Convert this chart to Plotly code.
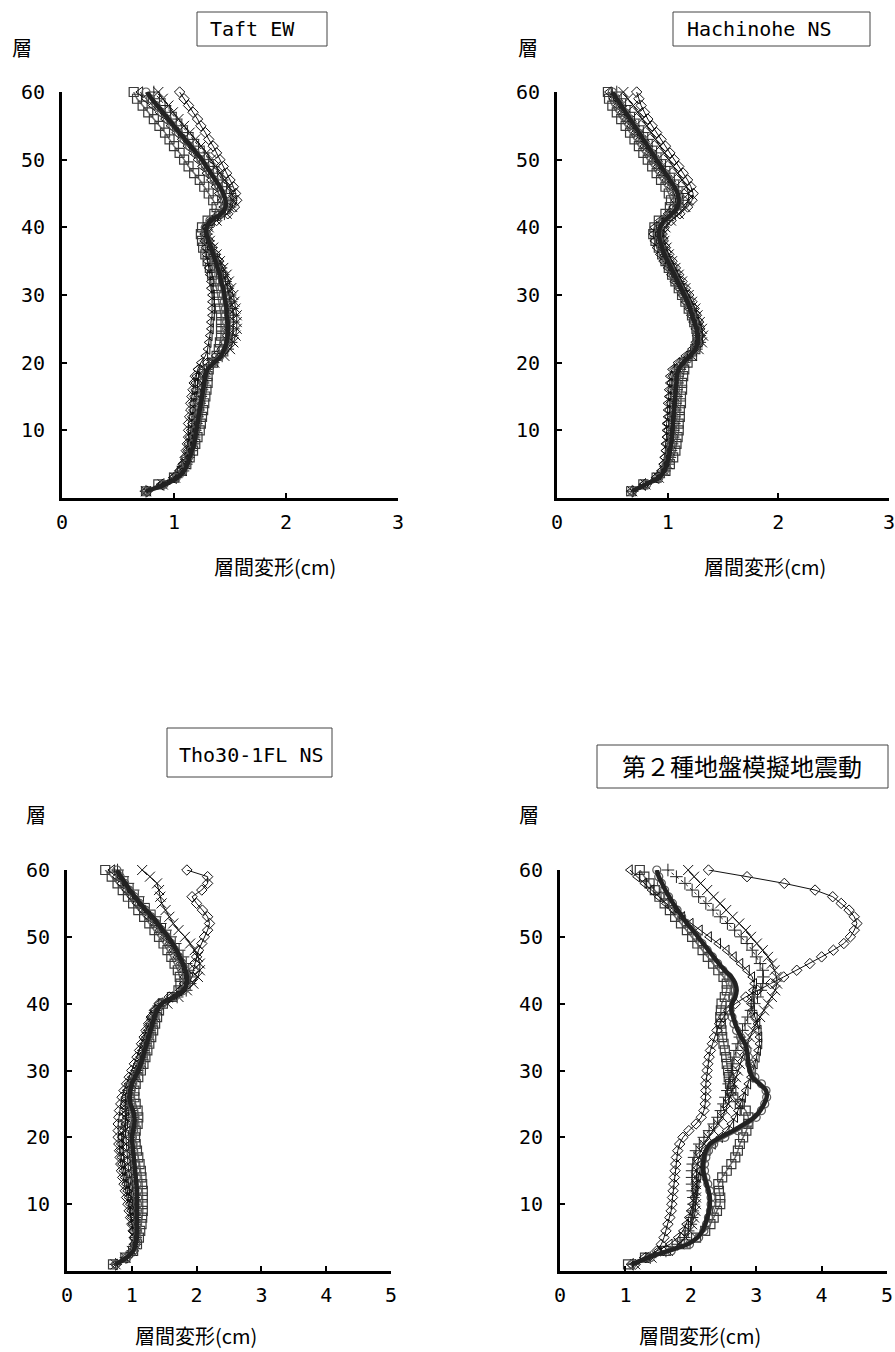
import plotly.graph_objects as go

# ---------------- data (layer 1 .. 60) ----------------
layers = list(range(1, 61))

# Panel 1: Taft EW
taft_square = [0.75,0.86,1.00,1.07,1.11,1.14,1.17,1.19,1.21,1.23,
               1.24,1.25,1.26,1.27,1.28,1.29,1.30,1.30,1.31,1.35,
               1.38,1.40,1.41,1.42,1.42,1.42,1.42,1.41,1.40,1.39,
               1.38,1.36,1.34,1.32,1.30,1.28,1.26,1.25,1.24,1.25,
               1.30,1.36,1.38,1.35,1.31,1.27,1.23,1.18,1.13,1.09,
               1.05,1.00,0.96,0.92,0.87,0.82,0.77,0.72,0.67,0.64]
taft_diamond = [0.76,0.90,1.00,1.05,1.08,1.10,1.11,1.12,1.13,1.13,
                1.13,1.14,1.15,1.15,1.16,1.17,1.18,1.19,1.22,1.30,
                1.38,1.43,1.46,1.48,1.49,1.50,1.50,1.50,1.50,1.49,
                1.48,1.46,1.44,1.42,1.40,1.37,1.34,1.31,1.29,1.30,
                1.38,1.48,1.54,1.56,1.55,1.53,1.50,1.47,1.44,1.41,
                1.38,1.35,1.31,1.28,1.24,1.21,1.17,1.13,1.09,1.05]
taft_triangle = [0.74,0.88,0.99,1.05,1.08,1.10,1.12,1.13,1.14,1.15,
                 1.16,1.16,1.17,1.17,1.18,1.19,1.19,1.20,1.21,1.24,
                 1.28,1.30,1.31,1.32,1.33,1.33,1.34,1.34,1.34,1.34,
                 1.33,1.33,1.32,1.31,1.30,1.29,1.28,1.27,1.27,1.28,
                 1.33,1.40,1.44,1.43,1.40,1.37,1.33,1.29,1.25,1.21,
                 1.17,1.12,1.07,1.02,0.97,0.92,0.87,0.81,0.75,0.70]
taft_x = [0.75,0.90,1.01,1.07,1.10,1.12,1.14,1.16,1.17,1.18,
          1.19,1.20,1.21,1.22,1.23,1.24,1.25,1.26,1.28,1.36,
          1.45,1.50,1.53,1.55,1.56,1.56,1.56,1.55,1.54,1.53,
          1.51,1.49,1.47,1.44,1.41,1.38,1.35,1.32,1.30,1.31,
          1.38,1.47,1.52,1.53,1.52,1.49,1.45,1.41,1.37,1.33,
          1.29,1.24,1.19,1.14,1.09,1.04,0.99,0.95,0.90,0.86]
taft_cross = [0.75,0.91,1.02,1.08,1.11,1.13,1.15,1.17,1.18,1.19,
              1.20,1.21,1.22,1.23,1.24,1.25,1.26,1.27,1.29,1.35,
              1.43,1.48,1.51,1.52,1.53,1.53,1.53,1.52,1.51,1.50,
              1.48,1.46,1.44,1.42,1.39,1.36,1.33,1.31,1.29,1.30,
              1.36,1.45,1.50,1.51,1.50,1.47,1.43,1.39,1.35,1.31,
              1.27,1.22,1.17,1.12,1.07,1.02,0.97,0.92,0.87,0.82]
taft_circle = [0.75,0.91,1.02,1.08,1.11,1.13,1.15,1.17,1.18,1.19,
               1.20,1.21,1.22,1.23,1.24,1.25,1.26,1.27,1.29,1.35,
               1.41,1.44,1.46,1.47,1.47,1.47,1.46,1.46,1.45,1.44,
               1.43,1.41,1.40,1.38,1.36,1.34,1.32,1.30,1.28,1.28,
               1.32,1.41,1.45,1.45,1.43,1.40,1.36,1.32,1.28,1.24,
               1.19,1.14,1.09,1.04,0.99,0.94,0.89,0.84,0.79,0.75]
taft_mean = [0.75,0.92,1.03,1.09,1.12,1.14,1.16,1.18,1.19,1.20,
             1.21,1.22,1.23,1.24,1.25,1.26,1.27,1.28,1.30,1.36,
             1.42,1.45,1.47,1.48,1.48,1.48,1.47,1.47,1.46,1.45,
             1.44,1.42,1.41,1.39,1.37,1.35,1.33,1.31,1.29,1.29,
             1.33,1.42,1.46,1.46,1.44,1.41,1.37,1.33,1.29,1.25,
             1.20,1.15,1.10,1.05,1.00,0.95,0.90,0.85,0.80,0.76]

# Panel 2: Hachinohe NS
hachi_square = [0.67,0.78,0.90,0.98,1.02,1.05,1.07,1.08,1.09,1.10,
                1.10,1.11,1.11,1.12,1.12,1.13,1.13,1.14,1.15,1.18,
                1.22,1.25,1.27,1.27,1.26,1.24,1.22,1.19,1.16,1.13,
                1.10,1.07,1.04,1.01,0.98,0.95,0.92,0.89,0.87,0.88,
                0.92,0.98,1.02,1.03,1.01,0.98,0.94,0.90,0.86,0.82,
                0.78,0.74,0.70,0.66,0.62,0.58,0.54,0.50,0.47,0.46]
hachi_diamond = [0.68,0.79,0.90,0.95,0.97,0.98,0.99,1.00,1.00,1.01,
                 1.01,1.02,1.02,1.03,1.03,1.04,1.04,1.05,1.07,1.12,
                 1.19,1.25,1.28,1.29,1.29,1.28,1.26,1.24,1.22,1.19,
                 1.16,1.13,1.10,1.07,1.04,1.01,0.98,0.96,0.95,0.97,
                 1.03,1.11,1.18,1.22,1.23,1.21,1.18,1.14,1.10,1.06,
                 1.02,0.98,0.94,0.90,0.86,0.82,0.79,0.76,0.74,0.72]
hachi_triangle = [0.67,0.78,0.89,0.94,0.96,0.97,0.98,0.98,0.99,0.99,
                  0.99,1.00,1.00,1.00,1.01,1.01,1.02,1.02,1.04,1.09,
                  1.16,1.22,1.25,1.26,1.25,1.23,1.21,1.19,1.16,1.13,
                  1.10,1.06,1.03,1.00,0.96,0.93,0.90,0.88,0.87,0.88,
                  0.93,1.00,1.05,1.07,1.06,1.03,0.99,0.95,0.91,0.87,
                  0.83,0.79,0.75,0.71,0.67,0.63,0.59,0.55,0.51,0.47]
hachi_x = [0.68,0.80,0.92,0.97,1.00,1.01,1.02,1.03,1.03,1.04,
           1.04,1.05,1.05,1.06,1.06,1.07,1.07,1.08,1.10,1.15,
           1.22,1.28,1.31,1.32,1.31,1.29,1.27,1.25,1.22,1.19,
           1.16,1.13,1.10,1.07,1.04,1.01,0.99,0.97,0.96,0.98,
           1.03,1.10,1.16,1.19,1.19,1.17,1.13,1.09,1.05,1.01,
           0.97,0.93,0.89,0.85,0.81,0.77,0.73,0.69,0.64,0.60]
hachi_cross = [0.68,0.80,0.92,0.97,1.00,1.02,1.03,1.04,1.05,1.05,
               1.06,1.06,1.07,1.07,1.08,1.08,1.09,1.09,1.11,1.15,
               1.21,1.26,1.29,1.29,1.28,1.26,1.24,1.22,1.19,1.16,
               1.13,1.10,1.07,1.04,1.01,0.98,0.96,0.94,0.93,0.95,
               1.00,1.07,1.12,1.14,1.13,1.10,1.06,1.02,0.98,0.94,
               0.90,0.86,0.82,0.78,0.74,0.70,0.66,0.62,0.58,0.54]
hachi_circle = [0.68,0.81,0.92,0.97,0.99,1.01,1.02,1.03,1.04,1.04,
                1.05,1.05,1.06,1.06,1.07,1.07,1.08,1.08,1.10,1.14,
                1.20,1.25,1.27,1.27,1.26,1.24,1.22,1.20,1.17,1.14,
                1.11,1.08,1.05,1.02,0.99,0.96,0.94,0.92,0.91,0.92,
                0.96,1.03,1.08,1.09,1.08,1.05,1.01,0.97,0.93,0.89,
                0.85,0.81,0.77,0.73,0.69,0.65,0.61,0.57,0.53,0.50]
hachi_mean = [0.68,0.80,0.92,0.97,0.99,1.01,1.02,1.03,1.04,1.04,
              1.05,1.05,1.06,1.06,1.07,1.07,1.08,1.08,1.10,1.14,
              1.20,1.25,1.27,1.27,1.26,1.24,1.22,1.20,1.18,1.15,
              1.12,1.09,1.06,1.03,1.00,0.97,0.95,0.93,0.92,0.93,
              0.97,1.04,1.09,1.10,1.09,1.06,1.02,0.98,0.94,0.90,
              0.86,0.82,0.78,0.74,0.70,0.66,0.62,0.58,0.54,0.50]

# Panel 3: Tho30-1FL NS
tho_square = [0.71,0.90,1.02,1.08,1.11,1.13,1.15,1.16,1.17,1.17,
              1.17,1.17,1.16,1.15,1.14,1.12,1.10,1.08,1.06,1.05,
              1.06,1.09,1.10,1.09,1.06,1.04,1.04,1.06,1.10,1.14,
              1.18,1.21,1.24,1.27,1.30,1.33,1.36,1.39,1.42,1.48,
              1.62,1.72,1.75,1.74,1.71,1.66,1.61,1.55,1.49,1.42,
              1.35,1.27,1.19,1.10,1.02,0.94,0.86,0.78,0.69,0.59]
tho_diamond = [0.76,0.92,1.02,1.05,1.04,1.02,1.00,0.98,0.96,0.94,
               0.92,0.90,0.88,0.86,0.84,0.83,0.82,0.81,0.80,0.79,
               0.79,0.79,0.80,0.81,0.83,0.85,0.88,0.92,0.96,1.00,
               1.04,1.08,1.12,1.15,1.19,1.22,1.26,1.30,1.35,1.42,
               1.58,1.76,1.88,1.93,1.95,1.97,2.00,2.03,2.08,2.12,
               2.17,2.20,2.17,2.09,2.00,1.93,2.08,2.17,2.17,1.85]
tho_triangle = [0.74,0.90,1.00,1.03,1.03,1.02,1.01,1.00,0.99,0.97,
                0.95,0.93,0.91,0.89,0.87,0.85,0.84,0.83,0.83,0.84,
                0.87,0.90,0.92,0.91,0.90,0.90,0.92,0.95,1.00,1.05,
                1.09,1.13,1.16,1.19,1.22,1.25,1.28,1.31,1.35,1.42,
                1.60,1.74,1.80,1.81,1.79,1.75,1.70,1.64,1.58,1.51,
                1.43,1.35,1.26,1.17,1.08,1.00,0.92,0.84,0.77,0.70]
tho_x = [0.75,0.90,1.00,1.05,1.06,1.06,1.05,1.04,1.03,1.02,
         1.01,1.00,0.98,0.97,0.95,0.94,0.93,0.92,0.91,0.90,
         0.90,0.90,0.90,0.90,0.91,0.93,0.96,1.00,1.04,1.08,
         1.11,1.14,1.17,1.20,1.23,1.26,1.30,1.34,1.40,1.55,
         1.72,1.85,1.95,2.02,2.05,2.05,2.02,1.97,1.90,1.82,
         1.72,1.64,1.58,1.52,1.46,1.44,1.42,1.39,1.28,1.16]
tho_cross = [0.75,0.91,1.01,1.05,1.06,1.06,1.06,1.06,1.05,1.04,
             1.03,1.02,1.01,1.00,0.99,0.98,0.97,0.96,0.95,0.95,
             0.97,0.99,1.00,0.99,0.96,0.95,0.96,0.99,1.03,1.08,
             1.12,1.15,1.18,1.21,1.24,1.27,1.30,1.33,1.37,1.48,
             1.70,1.84,1.90,1.90,1.88,1.84,1.79,1.73,1.67,1.60,
             1.52,1.44,1.36,1.27,1.18,1.10,1.02,0.94,0.86,0.78]
tho_circle = [0.75,0.92,1.02,1.06,1.08,1.09,1.09,1.09,1.09,1.09,
              1.09,1.09,1.08,1.07,1.06,1.05,1.04,1.03,1.02,1.01,
              1.03,1.05,1.05,1.03,0.99,0.98,0.99,1.01,1.06,1.11,
              1.15,1.18,1.21,1.24,1.27,1.30,1.33,1.36,1.40,1.47,
              1.66,1.80,1.84,1.84,1.82,1.78,1.73,1.67,1.61,1.54,
              1.46,1.38,1.30,1.21,1.12,1.04,0.96,0.89,0.82,0.77]
tho_mean = [0.75,0.92,1.02,1.06,1.07,1.08,1.08,1.08,1.08,1.08,
            1.08,1.08,1.07,1.06,1.05,1.04,1.03,1.02,1.01,1.00,
            1.02,1.04,1.04,1.02,0.98,0.97,0.98,1.00,1.05,1.10,
            1.14,1.17,1.20,1.23,1.26,1.29,1.32,1.35,1.39,1.46,
            1.65,1.80,1.85,1.85,1.83,1.79,1.74,1.69,1.63,1.56,
            1.48,1.40,1.32,1.22,1.13,1.05,0.97,0.90,0.83,0.77]

# Panel 4: 第２種地盤模擬地震動
kind2_square = [1.04,1.30,1.62,1.92,2.08,2.22,2.30,2.35,2.40,2.45,
                2.45,2.43,2.42,2.48,2.55,2.62,2.68,2.72,2.75,2.80,
                2.85,2.88,2.88,2.84,2.75,2.65,2.62,2.60,2.58,2.57,
                2.55,2.54,2.52,2.50,2.48,2.47,2.46,2.45,2.46,2.47,
                2.52,2.55,2.55,2.50,2.42,2.34,2.26,2.18,2.10,2.02,
                1.94,1.85,1.76,1.68,1.60,1.52,1.45,1.37,1.29,1.22]
kind2_diamond = [1.15,1.35,1.48,1.55,1.59,1.62,1.65,1.68,1.70,1.71,
                 1.72,1.73,1.74,1.75,1.76,1.77,1.78,1.80,1.83,1.88,
                 1.97,2.08,2.16,2.20,2.22,2.23,2.23,2.23,2.24,2.25,
                 2.26,2.28,2.30,2.33,2.36,2.40,2.44,2.50,2.58,2.68,
                 2.84,3.02,3.22,3.42,3.62,3.82,4.00,4.18,4.34,4.44,
                 4.50,4.54,4.50,4.42,4.30,4.17,3.90,3.43,2.86,2.27]
kind2_triangle = [1.08,1.28,1.50,1.68,1.80,1.88,1.93,1.97,2.00,2.03,
                  2.05,2.07,2.09,2.11,2.13,2.16,2.20,2.26,2.34,2.45,
                  2.55,2.62,2.68,2.72,2.76,2.80,2.84,2.88,2.92,2.95,
                  2.98,3.01,3.03,3.05,3.05,3.04,3.02,2.98,2.94,2.92,
                  2.93,2.95,2.97,2.94,2.86,2.76,2.66,2.55,2.42,2.28,
                  2.14,2.00,1.87,1.74,1.62,1.51,1.40,1.29,1.18,1.07]
kind2_x = [1.15,1.40,1.65,1.82,1.92,1.98,2.02,2.05,2.07,2.08,
           2.08,2.08,2.08,2.08,2.09,2.10,2.12,2.15,2.20,2.27,
           2.35,2.42,2.48,2.53,2.57,2.60,2.63,2.66,2.69,2.72,
           2.75,2.78,2.82,2.86,2.90,2.95,3.00,3.06,3.12,3.18,
           3.24,3.29,3.32,3.31,3.28,3.24,3.18,3.10,3.01,2.92,
           2.84,2.74,2.64,2.54,2.45,2.35,2.25,2.15,2.05,1.96]
kind2_cross = [1.12,1.38,1.62,1.80,1.90,1.96,2.00,2.02,2.03,2.04,
               2.04,2.03,2.02,2.02,2.02,2.03,2.05,2.08,2.13,2.20,
               2.28,2.35,2.41,2.46,2.50,2.53,2.56,2.58,2.60,2.62,
               2.64,2.66,2.69,2.72,2.75,2.79,2.83,2.87,2.92,2.97,
               3.02,3.07,3.10,3.11,3.10,3.06,3.00,2.94,2.86,2.77,
               2.67,2.56,2.45,2.34,2.23,2.12,2.02,1.91,1.78,1.65]
kind2_circle = [1.10,1.38,1.70,1.98,2.12,2.20,2.24,2.27,2.30,2.31,
                2.31,2.29,2.26,2.23,2.21,2.21,2.23,2.27,2.35,2.52,
                2.72,2.88,3.00,3.08,3.13,3.16,3.15,3.08,2.98,2.93,
                2.90,2.88,2.86,2.82,2.76,2.70,2.66,2.63,2.60,2.60,
                2.64,2.66,2.64,2.58,2.49,2.41,2.33,2.25,2.17,2.09,
                2.01,1.93,1.86,1.79,1.72,1.66,1.60,1.55,1.51,1.48]
kind2_mean = [1.10,1.35,1.65,1.95,2.10,2.18,2.22,2.25,2.28,2.29,
              2.29,2.27,2.24,2.21,2.19,2.19,2.20,2.23,2.29,2.45,
              2.65,2.82,2.97,3.06,3.12,3.16,3.15,3.05,2.94,2.90,
              2.88,2.87,2.86,2.83,2.77,2.72,2.68,2.65,2.62,2.63,
              2.68,2.70,2.68,2.62,2.52,2.43,2.35,2.27,2.19,2.11,
              2.03,1.94,1.87,1.80,1.73,1.67,1.61,1.56,1.51,1.48]

panel_titles = ["Taft EW", "Hachinohe NS", "Tho30-1FL NS", "第２種地盤模擬地震動"]
x_title = "層間変形(cm)"
y_title = "層"
y_ticks = [10, 20, 30, 40, 50, 60]
x_ticks_small = [0, 1, 2, 3]
x_ticks_large = [0, 1, 2, 3, 4, 5]

panel_series = [
    [taft_square, taft_diamond, taft_triangle, taft_x, taft_cross, taft_circle, taft_mean],
    [hachi_square, hachi_diamond, hachi_triangle, hachi_x, hachi_cross, hachi_circle, hachi_mean],
    [tho_square, tho_diamond, tho_triangle, tho_x, tho_cross, tho_circle, tho_mean],
    [kind2_square, kind2_diamond, kind2_triangle, kind2_x, kind2_cross, kind2_circle, kind2_mean],
]

# ---------------- styles ----------------
W, H = 895, 1352
def fx(px):
    return px / W
def fy(py):
    return 1 - py / H

series_styles = [
    dict(mode="lines+markers", line=dict(color="#6a6a6a", width=1.5),
         marker=dict(symbol="square-open", size=9, color="#3a3a3a", line=dict(width=1.2))),
    dict(mode="lines+markers", line=dict(color="#111", width=1),
         marker=dict(symbol="diamond-open", size=8, color="#111", line=dict(width=1))),
    dict(mode="lines+markers", line=dict(color="#111", width=1),
         marker=dict(symbol="triangle-left-open", size=9, color="#111", line=dict(width=1))),
    dict(mode="lines+markers", line=dict(color="#111", width=1),
         marker=dict(symbol="x-thin-open", size=10, color="#111", line=dict(width=1, color="#111"))),
    dict(mode="lines+markers", line=dict(color="#222", width=1, dash="dot"),
         marker=dict(symbol="cross-thin-open", size=9, color="#222", line=dict(width=1, color="#222"))),
    dict(mode="lines+markers", line=dict(color="#5a5a5a", width=2),
         marker=dict(symbol="circle-open", size=8, color="#5a5a5a", line=dict(width=1.2))),
    dict(mode="lines", line=dict(color="#222", width=4.5, shape="spline")),
]

# plot-area pixel boxes: (x0, x1, ytop(60), ybottom(0))
panels = [
    dict(box=(62, 398, 92, 498), xmax=3, xt=x_ticks_small,
         tbox=(197, 12, 327, 46), tpos=(208, 29, "left"), tsize=20,
         xlab=(275, 566), ylab=(22, 47)),
    dict(box=(557, 889, 92, 498), xmax=3, xt=x_ticks_small,
         tbox=(673, 12, 870, 46), tpos=(685, 29, "left"), tsize=20,
         xlab=(765, 566), ylab=(528, 47)),
    dict(box=(67, 391, 870, 1271), xmax=5, xt=x_ticks_large,
         tbox=(167, 728, 332, 777), tpos=(177, 755, "left"), tsize=20,
         xlab=(196, 1335), ylab=(36, 814)),
    dict(box=(560, 887, 870, 1271), xmax=5, xt=x_ticks_large,
         tbox=(597, 745, 888, 788), tpos=(742, 766, "center"), tsize=24,
         xlab=(700, 1335), ylab=(529, 814)),
]

tick_font = dict(family="DejaVu Sans Mono, Noto Sans CJK JP", size=20, color="black")
jp_font = dict(family="Noto Sans CJK JP", size=20, color="black")

fig = go.Figure()
shapes = []
annotations = []
for i, (p, series) in enumerate(zip(panels, panel_series)):
    n = "" if i == 0 else str(i + 1)
    xa, ya = "x" + n, "y" + n
    for vals, st in zip(series, series_styles):
        fig.add_trace(go.Scatter(x=vals, y=layers, xaxis=xa, yaxis=ya,
                                 showlegend=False, cliponaxis=False, hoverinfo="skip", **st))
    x0, x1, yt, yb = p["box"]
    axis_common = dict(showline=True, linewidth=3, linecolor="black", showgrid=False,
                       zeroline=False, ticks="inside", ticklen=5, tickwidth=1.5,
                       tickcolor="black", tickfont=tick_font, automargin=False,
                       ticklabeloverflow="allow")
    fig.layout["xaxis" + n] = dict(domain=[fx(x0), fx(x1)], range=[0, p["xmax"]],
                                   tickvals=p["xt"], anchor=ya, ticklabelstandoff=4,
                                   **axis_common)
    fig.layout["yaxis" + n] = dict(domain=[fy(yb), fy(yt)], range=[0, 60],
                                   tickvals=y_ticks, anchor=xa, ticklabelstandoff=10,
                                   **axis_common)
    bx0, by0, bx1, by1 = p["tbox"]
    shapes.append(dict(type="rect", xref="paper", yref="paper",
                       x0=fx(bx0), x1=fx(bx1), y0=fy(by1), y1=fy(by0),
                       line=dict(color="#444", width=1), fillcolor="white"))
    tx, ty, al = p["tpos"]
    tf = dict(jp_font if i == 3 else tick_font)
    tf["size"] = p["tsize"]
    annotations.append(dict(xref="paper", yref="paper", x=fx(tx), y=fy(ty),
                            xanchor=al, yanchor="middle", showarrow=False,
                            text=panel_titles[i], font=tf))
    annotations.append(dict(xref="paper", yref="paper", x=fx(p["xlab"][0]), y=fy(p["xlab"][1]),
                            xanchor="center", yanchor="middle", showarrow=False,
                            text=x_title, font=jp_font))
    annotations.append(dict(xref="paper", yref="paper", x=fx(p["ylab"][0]), y=fy(p["ylab"][1]),
                            xanchor="center", yanchor="middle", showarrow=False,
                            text=y_title, font=jp_font))

fig.update_layout(width=W, height=H, margin=dict(l=0, r=0, t=0, b=0, pad=0),
                  paper_bgcolor="white", plot_bgcolor="white",
                  shapes=shapes, annotations=annotations)
fig.write_html("out.html", config={"displayModeBar": False},
               post_script="document.body.style.margin='0px';"
                           "document.body.style.padding='0px';"
                           "document.documentElement.style.overflow='hidden';")
